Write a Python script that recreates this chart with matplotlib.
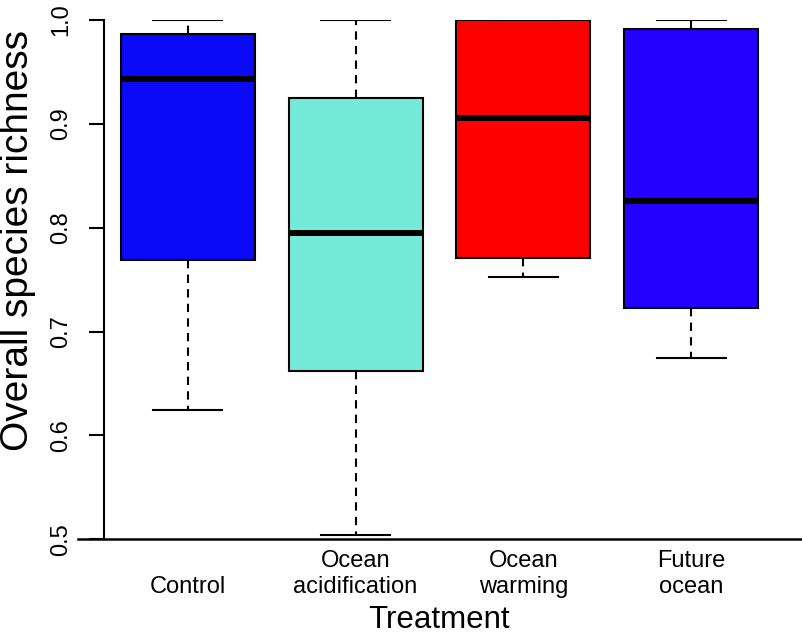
import numpy as np
import matplotlib
matplotlib.use("Agg")
import matplotlib.pyplot as plt

plt.rcParams['font.family'] = ['Liberation Sans', 'DejaVu Sans']

# values
treatments = ["Control", "Ocean\nacidification", "Ocean\nwarming", "Future\nocean"]
q1 = [0.769, 0.6625, 0.7712, 0.7231]
medians = [0.9432, 0.7947, 0.9054, 0.8258]
q3 = [0.9868, 0.925, 1.0, 0.991]
whisk_lo = [0.6246, 0.504, 0.7523, 0.6747]
whisk_hi = [1.0, 1.0, 1.0, 1.0]
colors = ["#0A0AF8", "#76EAD9", "#FF0000", "#2400FF"]

stats = []
for i in range(len(treatments)):
    stats.append({'med': medians[i], 'q1': q1[i], 'q3': q3[i],
                  'whislo': whisk_lo[i], 'whishi': whisk_hi[i]})

fig = plt.figure(figsize=(8.02, 6.43), dpi=100)
ax = fig.add_axes([104/802, 1-539.3/643, 671/802, 519.3/643])

pos = np.arange(1, len(treatments)+1)
bp = ax.bxp(stats, positions=pos, widths=0.8, capwidths=0.41, patch_artist=True,
            showfliers=False,
            boxprops=dict(edgecolor='black', linewidth=1.5),
            whiskerprops=dict(color='black', linewidth=1.5, linestyle=(0, (4, 3))),
            capprops=dict(color='black', linewidth=1.5),
            medianprops=dict(color='black', linewidth=4.3, solid_capstyle='butt'))
for patch, c in zip(bp['boxes'], colors):
    patch.set_facecolor(c)

ax.set_xlim(0.5, 4.5)
ax.set_ylim(0.5, 1.0)

for s in ['top', 'right', 'bottom']:
    ax.spines[s].set_visible(False)
ax.spines['left'].set_linewidth(1.5)
ax.axhline(0.5, xmin=-0.039, xmax=1.05, color='black', linewidth=1.8, clip_on=False)

ax.set_yticks([0.5, 0.6, 0.7, 0.8, 0.9, 1.0])
ax.set_yticklabels(["0.5", "0.6", "0.7", "0.8", "0.9", "1.0"])
ax.tick_params(axis='y', length=10.8, width=1.5, pad=12, labelsize=17)
plt.setp(ax.get_yticklabels(), rotation=90, va='center')

ax.set_xticks(pos)
ax.set_xticklabels(treatments)
ax.tick_params(axis='x', length=0, pad=42, labelsize=17)
plt.setp(ax.get_xticklabels(), va='bottom', ha='center', multialignment='center')

ax.set_xlabel("Treatment", fontsize=22.5, va='baseline')
ax.xaxis.set_label_coords(0.5, -0.171)
ax.set_ylabel("Overall species richness", fontsize=28, va='center')
ax.yaxis.set_label_coords(-0.128, 0.575)

fig.savefig("out.png", dpi=100)
